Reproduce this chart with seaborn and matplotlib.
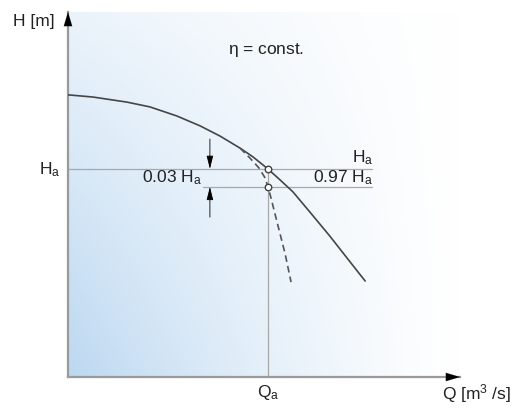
import numpy as np
import pandas as pd
import matplotlib.pyplot as plt
import seaborn as sns

# pump curve (solid) and curve at reduced speed (dashed)
q_pump = [0, 6.4, 15.1, 20.9, 27.8, 33.7, 38.8, 43.9, 47.2, 51.0, 54.1, 57.4, 61.7, 66.8, 71.4, 75.8]
h_pump = [77.3, 76.7, 75.3, 74.0, 71.5, 68.8, 66.0, 62.7, 60.3, 57.0, 54.0, 50.7, 45.2, 38.6, 32.3, 26.3]

q_dash = [43.9, 46.4, 48.7, 50.3, 51.0, 51.8, 52.8, 54.1, 55.4, 56.9]
h_dash = [62.7, 60.0, 57.3, 54.5, 52.1, 49.0, 44.7, 39.2, 33.7, 26.0]

q_a = 51.0
h_a = 57.0
h_97 = 52.1
q_marker = 36.2   # position of the 0.03 Ha arrows
q_line_end = 77.6

sns.set_style('white')
plt.rcParams['font.family'] = ['Liberation Sans', 'DejaVu Sans']
plt.rcParams['mathtext.fontset'] = 'custom'
plt.rcParams['mathtext.rm'] = 'Liberation Sans'
plt.rcParams['mathtext.it'] = 'Liberation Sans'

fig = plt.figure(figsize=(5.16, 4.10), dpi=100)
ax = fig.add_axes([68 / 516, 32 / 410, 392 / 516, 365 / 410])
ax.set_xlim(0, 100)
ax.set_ylim(0, 100)

# blue gradient background
u = np.linspace(0, 1, 300)[None, :]
v = np.linspace(0, 1, 200)[:, None]
w = (1 - u) ** 1.3 * (0.3 + 0.7 * v)
blue = np.array([188, 216, 241]) / 255
img = 1 - w[..., None] * (1 - blue)
ax.imshow(img, extent=[0, 100, 0, 100], aspect='auto', origin='upper', zorder=0)

# helper lines
gray = '#a8a8a8'
ax.plot([0, q_line_end], [h_a, h_a], color=gray, lw=0.9, zorder=1)
ax.plot([34.4, q_line_end], [h_97, h_97], color=gray, lw=0.9, zorder=1)
ax.plot([q_a, q_a], [0, h_a], color=gray, lw=0.9, zorder=1)

df_pump = pd.DataFrame({'Q': q_pump, 'H': h_pump})
df_dash = pd.DataFrame({'Q': q_dash, 'H': h_dash})
sns.lineplot(data=df_pump, x='Q', y='H', color='#454545', lw=1.2, ax=ax, zorder=3)
sns.lineplot(data=df_dash, x='Q', y='H', color='#555555', lw=1.2, ax=ax, zorder=3,
             linestyle=(0, (4, 2.5)))

pts = pd.DataFrame({'Q': [q_a, q_a], 'H': [h_a, h_97]})
sns.scatterplot(data=pts, x='Q', y='H', s=22, facecolor='white', edgecolor='#404040',
                linewidth=1.0, ax=ax, zorder=4)

# 0.03 Ha arrows
arr = dict(arrowstyle='-|>,head_length=0.8,head_width=0.2', color='black', lw=0.6,
           shrinkA=0, shrinkB=0)
ax.annotate('', xy=(q_marker, h_a), xytext=(q_marker, 65.2), arrowprops=arr)
ax.annotate('', xy=(q_marker, h_97), xytext=(q_marker, 43.8), arrowprops=arr)

# axes with arrow heads
for side in ['top', 'right']:
    ax.spines[side].set_visible(False)
for side in ['left', 'bottom']:
    ax.spines[side].set_color('#9a9a9a')
    ax.spines[side].set_linewidth(1.6)
ax.set_xticks([])
ax.set_yticks([])
ax.set_xlabel('')
ax.set_ylabel('')
head = dict(arrowstyle='-|>,head_length=1.0,head_width=0.3', color='black', lw=0.1,
            shrinkA=0, shrinkB=0)
ax.annotate('', xy=(0, 1), xytext=(0, 0.96), xycoords='axes fraction', arrowprops=head)
ax.annotate('', xy=(1, 0), xytext=(0.965, 0), xycoords='axes fraction', arrowprops=head)

fs = 12.5
tc = '#222222'
ax.text(-3.3, 97.8, 'H [m]', ha='right', va='center', fontsize=fs, color=tc, clip_on=False)
ax.text(40.8, 89.9, r'$\eta$ = const.', ha='left', va='center', fontsize=fs, color=tc)
ax.text(-2.0, h_a, r'H$_\mathrm{a}$', ha='right', va='center', fontsize=fs, color=tc, clip_on=False)
ax.text(77.8, h_a + 0.8, r'H$_\mathrm{a}$', ha='right', va='bottom', fontsize=fs, color=tc)
ax.text(77.8, h_97 + 0.3, r'0.97 H$_\mathrm{a}$', ha='right', va='bottom', fontsize=fs, color=tc)
ax.text(34.2, h_97 + 0.3, r'0.03 H$_\mathrm{a}$', ha='right', va='bottom', fontsize=fs, color=tc)
ax.text(q_a, -1.4, r'Q$_\mathrm{a}$', ha='center', va='top', fontsize=fs, color=tc, clip_on=False)
ax.text(113.0, -7.4, r'Q [m$^3$ /s]', ha='right', va='bottom', fontsize=fs, color=tc, clip_on=False)

fig.savefig('out.png', dpi=100)
